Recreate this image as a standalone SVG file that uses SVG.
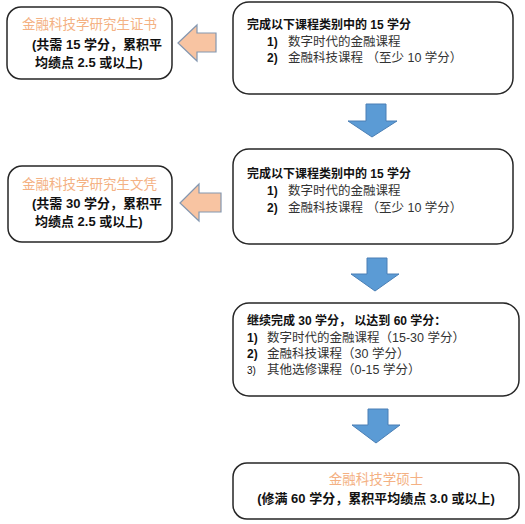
<svg xmlns="http://www.w3.org/2000/svg" width="525" height="524" viewBox="0 0 525 524">
<style>
.box{fill:#fff;stroke:#262626;stroke-width:1.5}
.t{font-family:"Liberation Sans","Noto Sans CJK SC",sans-serif;fill:#111}
.h{font-size:12px;font-weight:bold}
.n{font-size:12px;font-weight:bold}
.i{font-size:12.5px;fill:#333}
.o{font-size:13.5px;fill:#F4B183}
.s{font-size:13px;font-weight:bold}
.oa{fill:#F8C4A2;stroke:#8497B0;stroke-width:1.2}
.ba{fill:#5B9BD5;stroke:#4A7FB5;stroke-width:1}
</style>
<rect width="525" height="524" fill="#fff"/>
<g id="connectors">
<polygon class="oa" points="178,43 197,25 197,33 216,33 216,52 197,52 197,61"/>
<polygon class="oa" points="180,203 199,184 199,193 221,193 221,212 199,212 199,221"/>
<polygon class="ba" points="366,104 386,104 386,121 397,121 372,137 348,121 366,121"/>
<polygon class="ba" points="367,258 387,258 387,274 399,274 375,291 351,274 367,274"/>
<polygon class="ba" points="368,409 388,409 388,425 400,425 376,443 352,425 368,425"/>
</g>
<g id="step1">
<rect class="box" x="233" y="2" width="280" height="92" rx="16"/>
<text class="t h" x="247" y="29">完成以下课程类别中的 15 学分</text>
<text class="t n" x="267" y="46">1)</text>
<text class="t i" x="288" y="46">数字时代的金融课程</text>
<text class="t n" x="267" y="62">2)</text>
<text class="t i" x="288" y="62">金融科技课程 （至少 10 学分）</text>
</g>
<g id="cert">
<rect class="box" x="7" y="7" width="165" height="72" rx="14"/>
<text class="t o" x="22" y="29">金融科技学研究生证书</text>
<text class="t s" x="32" y="49">(共需 15 学分，累积平</text>
<text class="t s" x="35" y="67">均绩点 2.5 或以上)</text>
</g>
<g id="step2">
<rect class="box" x="233" y="149" width="280" height="95" rx="16"/>
<text class="t h" x="247" y="178">完成以下课程类别中的 15 学分</text>
<text class="t n" x="267" y="195">1)</text>
<text class="t i" x="288" y="195">数字时代的金融课程</text>
<text class="t n" x="267" y="212">2)</text>
<text class="t i" x="288" y="212">金融科技课程 （至少 10 学分）</text>
</g>
<g id="diploma">
<rect class="box" x="8" y="166" width="164" height="76" rx="14"/>
<text class="t o" x="22" y="189">金融科技学研究生文凭</text>
<text class="t s" x="32" y="208">(共需 30 学分，累积平</text>
<text class="t s" x="35" y="226">均绩点 2.5 或以上)</text>
</g>
<g id="step3">
<rect class="box" x="233" y="303" width="286" height="93" rx="16"/>
<text class="t h" x="247" y="325">继续完成 30 学分， 以达到 60 学分：</text>
<text class="t n" x="247" y="342">1)</text>
<text class="t i" x="267" y="342">数字时代的金融课程（15-30 学分）</text>
<text class="t n" x="247" y="358">2)</text>
<text class="t i" x="267" y="358">金融科技课程（30 学分）</text>
<text class="t" x="247" y="374" font-size="10">3)</text>
<text class="t i" x="267" y="374">其他选修课程（0-15 学分）</text>
</g>
<g id="master">
<rect class="box" x="233" y="463" width="286" height="56" rx="14"/>
<text class="t o" x="376" y="484" text-anchor="middle">金融科技学硕士</text>
<text class="t s" x="376" y="503" text-anchor="middle">(修满 60 学分，累积平均绩点 3.0 或以上)</text>
</g>
</svg>
